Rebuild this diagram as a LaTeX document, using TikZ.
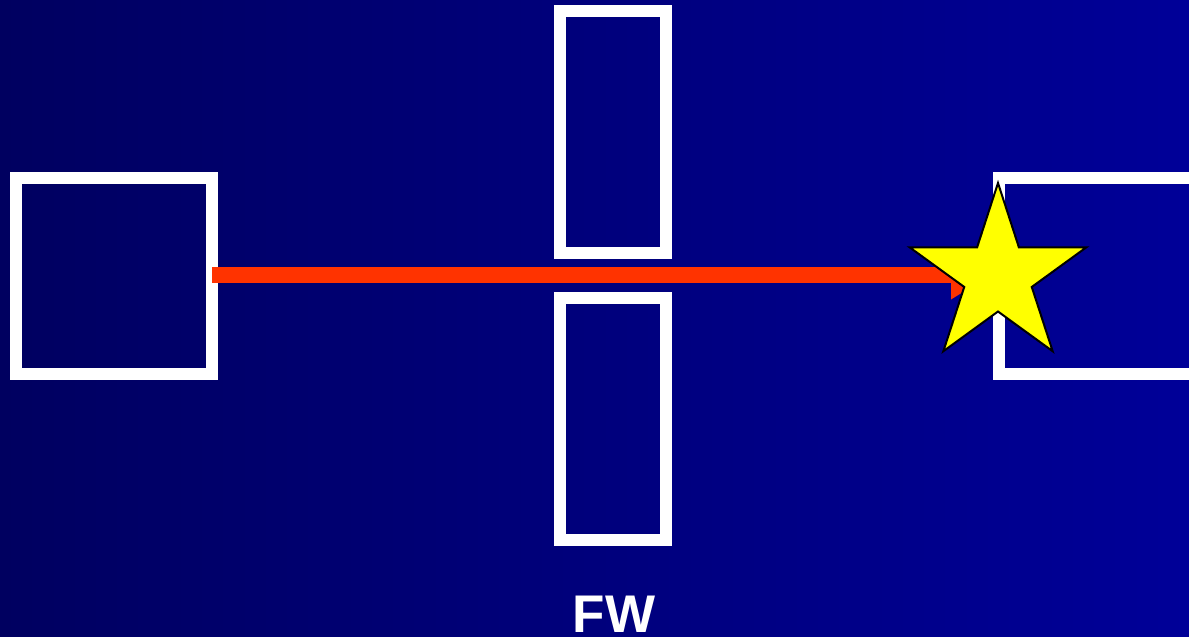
\documentclass[tikz,border=0pt]{standalone}
\usepackage{fontspec}
\setmainfont{Liberation Sans}
\usetikzlibrary{arrows.meta}
\definecolor{bgleft}{RGB}{0,0,96}
\definecolor{bgright}{RGB}{0,0,152}
\definecolor{arrowred}{RGB}{255,51,0}
\definecolor{staryellow}{RGB}{255,255,0}
\tikzset{
  wbox/.style={draw=white, line width=12pt, rectangle, inner sep=0pt, outer sep=0pt},
  redarrow/.style={draw=arrowred, line width=16pt, -{Triangle[length=40pt,width=46pt]}},
  starfill/.style={fill=staryellow, draw=black, line width=2pt, line join=miter},
  label/.style={text=white, font=\bfseries\fontsize{53}{60}\selectfont, inner sep=0pt, anchor=base}
}
\begin{document}
\begin{tikzpicture}[x=1pt,y=-1pt]
\useasboundingbox (0,0) rectangle (1189,637);
\clip (0,0) rectangle (1189,637);
\shade[left color=bgleft, right color=bgright] (0,0) rectangle (1189,637);
% boxes
\node[wbox, minimum width=196pt, minimum height=196pt] (src) at (114,276) {};
\node[wbox, minimum width=106pt, minimum height=242pt] (slotA) at (613,132) {};
\node[wbox, minimum width=106pt, minimum height=242pt] (slotB) at (613,419) {};
\node[wbox, minimum width=196pt, minimum height=196pt] (det) at (1097,276) {};
% arrow
\coordinate (tip) at (991,275);
\draw[redarrow] (src.east |- 0,275) -- (tip);
% star (angles mirrored since y points down)
\coordinate (sc) at (998,276);
\path[starfill]
  ([shift={(-90:93)}]sc) -- ([shift={(-54:35.5)}]sc)
  -- ([shift={(-18:93)}]sc) -- ([shift={(18:35.5)}]sc)
  -- ([shift={(54:93)}]sc) -- ([shift={(90:35.5)}]sc)
  -- ([shift={(126:93)}]sc) -- ([shift={(162:35.5)}]sc)
  -- ([shift={(198:93)}]sc) -- ([shift={(234:35.5)}]sc) -- cycle;
% label
\node[label] (fw) at (614,632) {FW};
\end{tikzpicture}
\end{document}
